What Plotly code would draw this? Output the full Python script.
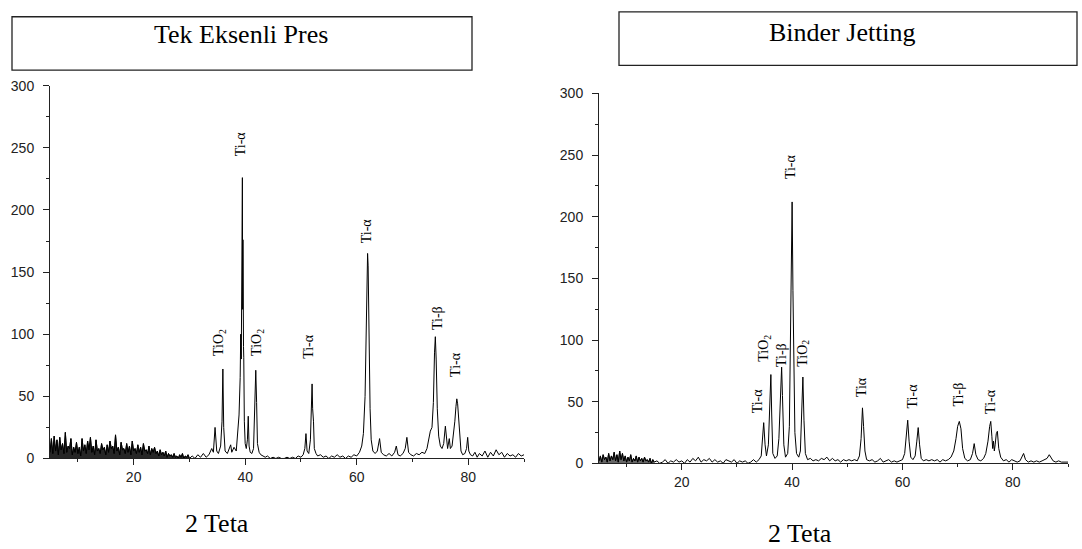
import plotly.graph_objects as go

# ---------------- data: Tek Eksenli Pres (left) ----------------
left_bg_x = [5.0, 5.25, 5.5, 5.75, 6.0, 6.25, 6.5, 6.75, 7.0, 7.25, 7.5, 7.75, 8.0, 8.25, 8.5, 8.75,
             9.0, 9.25, 9.5, 9.75, 10.0, 10.25, 10.5, 10.75, 11.0, 11.25, 11.5, 11.75, 12.0, 12.25,
             12.5, 12.75, 13.0, 13.25, 13.5, 13.75, 14.0, 14.25, 14.5, 14.75, 15.0, 15.25, 15.5,
             15.75, 16.0, 16.25, 16.5, 16.75, 17.0, 17.25, 17.5, 17.75, 18.0, 18.25, 18.5, 18.75,
             19.0, 19.25, 19.5, 19.75, 20.0, 20.25, 20.5, 20.75, 21.0, 21.25, 21.5, 21.75, 22.0,
             22.25, 22.5, 22.75, 23.0, 23.25, 23.5, 23.75, 24.0, 24.25, 24.5, 24.75, 25.0, 25.25,
             25.5, 25.75, 26.0, 26.25, 26.5, 26.75, 27.0, 27.25, 27.5, 27.75, 28.0, 28.25, 28.5,
             28.75, 29.0, 29.25, 29.5, 29.75, 30.0]
left_bg_y = [5, 16, 4, 18, 6, 15, 3, 17, 7, 12,
             4, 21, 5, 10, 8, 16, 3, 9, 5, 13,
             4, 9, 2, 16, 6, 11, 4, 14, 7, 17,
             5, 10, 3, 15, 6, 8, 4, 12, 7, 9,
             3, 11, 5, 14, 8, 10, 4, 19, 6, 9,
             3, 13, 7, 8, 4, 12, 5, 10, 3, 14,
             6, 8, 4, 11, 5, 9, 3, 12, 6, 7,
             4, 10, 3, 8, 5, 9, 4, 6, 2, 7,
             3, 5, 2, 6, 1, 4, 2, 3, 1, 4,
             1, 2, 0, 3, 1, 4, 0, 2, 1, 3,
             0]

left_pk_x = [30.5, 31.0, 31.5, 32.0, 32.5, 33.0, 33.5, 34.0, 34.3, 34.6, 34.9, 35.2, 35.6, 35.85,
             36.0, 36.15, 36.4, 36.8, 37.2, 37.4, 37.6, 38.0, 38.4, 38.7, 38.9, 39.1, 39.2, 39.3,
             39.4, 39.5, 39.55, 39.6, 39.7, 39.75, 39.85, 40.0, 40.2, 40.4, 40.55, 40.7, 40.9,
             41.2, 41.5, 41.7, 41.9, 42.05, 42.2, 42.5, 42.8, 43.2, 43.6, 44.0, 44.5, 45.0, 45.5,
             46.0, 46.5, 47.0, 47.5, 48.0, 48.5, 49.0, 49.5, 50.0]
left_pk_y = [2, 0, 3, 1, 4, 1, 3, 8, 5, 25, 6, 4, 10, 30,
             72, 25, 6, 4, 8, 11, 5, 9, 6, 20, 35, 65, 100, 80,
             150, 226, 120, 176, 90, 81, 30, 12, 8, 15, 34, 10, 5,
             4, 8, 35, 71, 45, 12, 5, 3, 2, 1, 2, 0, 1, 0,
             1, 0, 0, 1, 0, 1, 0, 2, 1]

left_mid_x = [50.4, 50.7, 50.9, 51.1, 51.4, 51.7, 51.9, 52.0, 52.1, 52.25, 52.4, 52.7, 53.0, 53.5,
              54.0, 54.5, 55.0, 55.5, 56.0, 56.5, 57.0, 57.5, 58.0, 58.5, 59.0, 59.5, 60.0, 60.5,
              60.9, 61.2, 61.5, 61.7, 61.85, 61.95, 62.05, 62.2, 62.4, 62.6, 62.9, 63.3, 63.7,
              64.1, 64.4, 64.8, 65.3, 65.8, 66.3, 66.8, 67.1, 67.4, 67.8, 68.3, 68.7, 69.0, 69.3,
              69.7]
left_mid_y = [3, 8, 20, 6, 4, 15, 45, 60, 40, 30, 8, 4, 2, 3,
              1, 2, 0, 2, 1, 3, 1, 2, 0, 2, 1, 3, 2, 5,
              10, 20, 50, 100, 150, 165, 155, 100, 40, 15, 6, 4, 6,
              16, 5, 3, 2, 4, 2, 5, 10, 3, 2, 4, 8, 17, 5,
              3]

left_hi_x = [70.2, 70.7, 71.2, 71.7, 72.2, 72.6, 72.9, 73.2, 73.5, 73.75, 73.95, 74.1, 74.25, 74.45,
             74.7, 75.0, 75.3, 75.6, 75.9, 76.1, 76.3, 76.6, 76.8, 77.1, 77.4, 77.6, 77.8, 77.95,
             78.1, 78.25, 78.45, 78.7, 79.0, 79.4, 79.7, 79.9, 80.1, 80.4, 80.8, 81.2, 81.6, 82.0,
             82.5, 83.0, 83.5, 84.0, 84.5, 85.0, 85.5, 86.0, 86.5, 87.0, 87.5, 88.0, 88.5, 89.0,
             89.5, 90.0]
left_hi_y = [2, 4, 3, 5, 4, 8, 15, 22, 25, 45, 85, 98, 80, 40,
             18, 10, 8, 12, 26, 15, 8, 16, 8, 10, 20, 30, 42, 48,
             44, 35, 20, 6, 3, 4, 8, 17, 6, 3, 2, 5, 1, 4,
             2, 6, 1, 5, 2, 7, 3, 5, 1, 4, 2, 3, 1, 4,
             2, 3]

# ---------------- data: Binder Jetting (right) ----------------
right_bg_x = [5.0, 5.25, 5.5, 5.75, 6.0, 6.25, 6.5, 6.75, 7.0, 7.25, 7.5, 7.75, 8.0, 8.25, 8.5, 8.75,
              9.0, 9.25, 9.5, 9.75, 10.0, 10.25, 10.5, 10.75, 11.0, 11.25, 11.5, 11.75, 12.0, 12.25,
              12.5, 12.75, 13.0, 13.25, 13.5, 13.75, 14.0, 14.25, 14.5, 14.75, 15.0, 15.5, 16.0,
              16.5, 17.0, 17.5, 18.0, 18.5, 19.0, 19.5, 20.0, 20.5, 21.0, 21.5, 22.0, 22.5, 23.0,
              23.5, 24.0, 24.5, 25.0, 25.5, 26.0, 26.5, 27.0, 27.5, 28.0, 28.5, 29.0, 29.5, 30.0,
              30.5, 31.0, 31.5, 32.0, 32.5, 33.0, 33.5, 34.0, 34.4]
right_bg_y = [2, 6, 1, 7, 3, 5, 1, 8, 2, 6, 3, 9, 2, 7, 1, 10,
              3, 8, 2, 6, 1, 5, 2, 7, 1, 4, 2, 6, 1, 5,
              2, 4, 1, 5, 2, 3, 1, 4, 0, 3, 1, 2, 0,
              1, 3, 0, 2, 1, 3, 1, 2, 0, 3, 1, 4, 2, 5,
              1, 3, 2, 4, 1, 3, 1, 2, 0, 3, 2, 1, 3, 0,
              2, 1, 2, 0, 1, 3, 1, 3, 6]

right_pk_x = [34.85, 35.1, 35.35, 35.7, 35.95, 36.15, 36.3, 36.5, 36.9, 37.3, 37.6, 37.9, 38.1,
              38.25, 38.5, 38.8, 39.2, 39.5, 39.7, 39.85, 40.0, 40.15, 40.3, 40.5, 40.8, 41.2,
              41.5, 41.75, 41.95, 42.15, 42.4, 42.8, 43.3, 43.8, 44.3, 44.8, 45.3, 45.8, 46.3,
              46.8, 47.3, 47.8, 48.3, 48.8, 49.3, 49.8, 50.3, 50.8, 51.3, 51.8, 52.2, 52.5, 52.75,
              52.95, 53.2, 53.5, 54.0, 54.5, 55.0, 55.5, 56.0, 56.5, 57.0, 57.5, 58.0, 58.5, 59.0,
              59.5, 60.0]
right_pk_y = [33, 15, 6, 15, 50, 72, 40, 8, 4, 6, 20, 60, 78,
              55, 15, 5, 8, 30, 90, 130, 212, 140, 65, 25, 8, 5,
              10, 40, 70, 35, 8, 3, 4, 2, 3, 2, 4, 3, 5,
              2, 4, 2, 3, 1, 3, 2, 3, 2, 3, 2, 6, 20, 45,
              30, 10, 3, 2, 3, 1, 2, 4, 1, 2, 3, 1, 2, 1,
              2, 3]

right_hi_x = [60.4, 60.7, 60.95, 61.2, 61.5, 61.9, 62.3, 62.6, 62.85, 63.1, 63.4, 63.8, 64.3, 64.8,
              65.3, 65.8, 66.3, 66.8, 67.3, 67.8, 68.3, 68.8, 69.3, 69.7, 70.0, 70.3, 70.6, 70.9,
              71.3, 71.8, 72.3, 72.7, 73.0, 73.3, 73.7, 74.2, 74.7, 75.1, 75.5, 75.8, 76.0, 76.2,
              76.35, 76.5, 76.65, 76.8, 77.0, 77.2, 77.45, 77.8, 78.3, 78.8, 79.3, 79.8, 80.3,
              80.8, 81.3, 81.7, 81.95, 82.3, 82.8, 83.3, 83.8, 84.3, 84.8, 85.3, 85.8, 86.2, 86.6,
              86.9, 87.3, 87.8, 88.3, 88.8, 89.3, 90.0]
right_hi_y = [8, 20, 35, 18, 5, 3, 6, 18, 29, 15, 4, 2, 3, 2,
              3, 2, 3, 1, 3, 2, 3, 5, 10, 20, 30, 34, 28, 12,
              4, 2, 3, 8, 16, 7, 3, 2, 4, 8, 18, 30, 34, 22,
              12, 18, 10, 15, 24, 26, 12, 5, 2, 3, 1, 3, 2,
              1, 2, 5, 8, 3, 1, 2, 1, 2, 1, 2, 3, 4, 7,
              5, 2, 1, 2, 1, 1, 1]

# peak labels: (text, 2-theta, intensity position of label centre)
left_lbl_text = ["Ti-α", "TiO<sub>2</sub>", "TiO<sub>2</sub>", "Ti-α", "Ti-α", "Ti-β", "Ti-α"]
left_lbl_x = [39.1, 35.5, 42.3, 51.3, 61.7, 74.4, 77.6]
left_lbl_y = [253, 93, 93, 90, 183, 113, 76]

right_lbl_text = ["Ti-α", "TiO<sub>2</sub>", "Ti-β", "Ti-α", "TiO<sub>2</sub>", "Tiα", "Ti-α", "Ti-β", "Ti-α"]
right_lbl_x = [33.8, 35.1, 38.2, 39.6, 42.0, 52.7, 61.9, 70.1, 75.9]
right_lbl_y = [51, 93, 88, 241, 89, 62, 55, 56, 50]

titles = ["Tek Eksenli Pres", "Binder Jetting"]
x_title = "2 Teta"

# ------------------------------------------------------------
for a, b in [(left_bg_x, left_bg_y), (left_pk_x, left_pk_y), (left_mid_x, left_mid_y),
             (left_hi_x, left_hi_y), (right_bg_x, right_bg_y), (right_pk_x, right_pk_y),
             (right_hi_x, right_hi_y)]:
    assert len(a) == len(b), (len(a), len(b), a[0])

left_x = left_bg_x + left_pk_x + left_mid_x + left_hi_x
left_y = left_bg_y + left_pk_y + left_mid_y + left_hi_y
right_x = right_bg_x + right_pk_x + right_hi_x
right_y = right_bg_y + right_pk_y + right_hi_y

W, H = 1082, 549
def px(x):
    return x / W
def py(y):
    return 1 - y / H

LINE = dict(color="black", width=1.0)
fig = go.Figure()
# dense noise region drawn as a filled mass (as in the original scan)
fig.add_trace(go.Scatter(x=left_bg_x, y=left_bg_y, mode="lines", line=dict(color="black", width=0.8),
                         fill="tozeroy", fillcolor="rgba(0,0,0,0.85)", xaxis="x", yaxis="y",
                         hoverinfo="skip"))
fig.add_trace(go.Scatter(x=right_bg_x[:41], y=right_bg_y[:41], mode="lines",
                         line=dict(color="black", width=0.8), fill="tozeroy",
                         fillcolor="rgba(0,0,0,0.6)", xaxis="x2", yaxis="y2", hoverinfo="skip"))
fig.add_trace(go.Scatter(x=left_x, y=left_y, mode="lines", line=LINE, xaxis="x", yaxis="y",
                         hoverinfo="skip"))
fig.add_trace(go.Scatter(x=right_x, y=right_y, mode="lines", line=LINE, xaxis="x2", yaxis="y2",
                         hoverinfo="skip"))

AXC = "#222222"
tickfont = dict(family="Liberation Sans, Arial, sans-serif", size=14, color="#222222")
def xax(domain, anchor):
    return dict(domain=domain, anchor=anchor, range=[5, 90], tick0=0, dtick=20,
                showline=True, linecolor=AXC, linewidth=1, ticks="outside",
                ticklen=6, tickcolor=AXC, tickfont=tickfont, showgrid=False,
                zeroline=False,
                minor=dict(tick0=0, dtick=10, ticks="outside", ticklen=3, tickcolor=AXC))
def yax(domain, anchor):
    return dict(domain=domain, anchor=anchor, range=[0, 300], tick0=0, dtick=50,
                showline=True, linecolor=AXC, linewidth=1, ticks="outside",
                ticklen=6, tickcolor=AXC, tickfont=tickfont, showgrid=False,
                zeroline=False, ticklabelstandoff=6,
                minor=dict(tick0=0, dtick=25, ticks="outside", ticklen=3, tickcolor=AXC))

annotations = []
lblfont = dict(family="Liberation Serif, Times New Roman, serif", size=14, color="black")
for t, x, y in zip(left_lbl_text, left_lbl_x, left_lbl_y):
    annotations.append(dict(text=t, x=x, y=y, xref="x", yref="y", showarrow=False,
                            textangle=-90, font=lblfont, xanchor="center", yanchor="middle"))
for t, x, y in zip(right_lbl_text, right_lbl_x, right_lbl_y):
    annotations.append(dict(text=t, x=x, y=y, xref="x2", yref="y2", showarrow=False,
                            textangle=-90, font=lblfont, xanchor="center", yanchor="middle"))

titlefont = dict(family="Liberation Serif, Times New Roman, serif", size=26, color="black")
annotations.append(dict(text=titles[0], x=px(241), y=py(27), xref="paper", yref="paper",
                        showarrow=False, font=titlefont, xanchor="center", yanchor="middle"))
annotations.append(dict(text=titles[1], x=px(842), y=py(25), xref="paper", yref="paper",
                        showarrow=False, font=titlefont, xanchor="center", yanchor="middle"))
annotations.append(dict(text=x_title, x=px(217), y=py(531), xref="paper", yref="paper",
                        showarrow=False, font=titlefont, xanchor="center", yanchor="middle"))
annotations.append(dict(text=x_title, x=px(800), y=py(541), xref="paper", yref="paper",
                        showarrow=False, font=titlefont, xanchor="center", yanchor="middle"))

shapes = [
    dict(type="rect", xref="paper", yref="paper", x0=px(12), x1=px(472), y0=py(64), y1=py(9),
         line=dict(color="#222222", width=1.3), fillcolor="rgba(0,0,0,0)"),
    dict(type="rect", xref="paper", yref="paper", x0=px(619), x1=px(1077), y0=py(59), y1=py(4),
         line=dict(color="#222222", width=1.3), fillcolor="rgba(0,0,0,0)"),
]

fig.update_layout(
    width=W, height=H, margin=dict(l=0, r=0, t=0, b=0),
    paper_bgcolor="white", plot_bgcolor="white", showlegend=False,
    xaxis=xax([px(50), px(524)], "y"),
    yaxis=yax([py(464), py(80)], "x"),
    xaxis2=xax([px(599), px(1068)], "y2"),
    yaxis2=yax([py(469), py(88)], "x2"),
    annotations=annotations, shapes=shapes,
)

fig.write_html("out.html", config={"displayModeBar": False},
               post_script="document.body.style.margin='0px';")
